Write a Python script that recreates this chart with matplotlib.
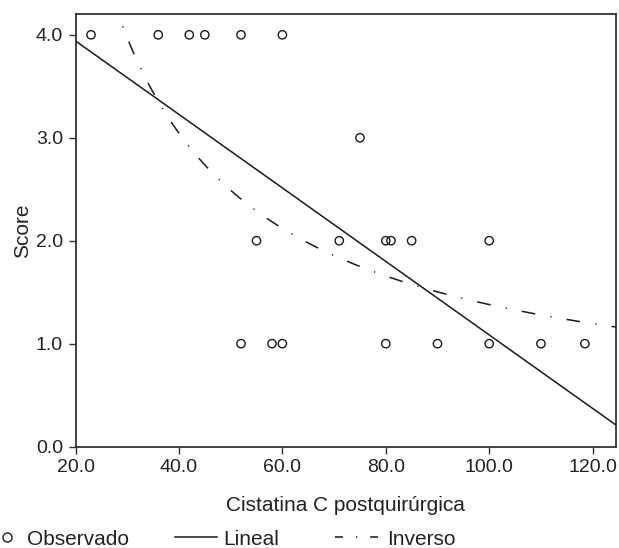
import numpy as np
import matplotlib
matplotlib.use("Agg")
import matplotlib.pyplot as plt
from matplotlib.lines import Line2D

plt.rcParams['font.family'] = ['Liberation Sans', 'DejaVu Sans']

# Observed data (Cistatina C postquirúrgica vs Score)
cistatina = [23, 36, 42, 45, 52, 60,
             75,
             55, 71, 80, 81, 85, 100,
             52, 58, 60, 80, 90, 100, 110, 118.5]
score = [4, 4, 4, 4, 4, 4,
         3,
         2, 2, 2, 2, 2, 2,
         1, 1, 1, 1, 1, 1, 1, 1]

# Fitted models
lineal_b0, lineal_b1 = 4.655, -0.0357     # y = b0 + b1*x
inverso_b0, inverso_b1 = 0.27, 111.0      # y = b0 + b1/x

x_ticks = [20.0, 40.0, 60.0, 80.0, 100.0, 120.0]
y_ticks = [0.0, 1.0, 2.0, 3.0, 4.0]
x_range = (20.0, 124.5)
y_range = (0.0, 4.2)

INK = '#1a1a1a'
TXT = '#222222'

fig = plt.figure(figsize=(6.19, 5.48), dpi=100)
ax = fig.add_axes([0.122, 0.185, 0.873, 0.789])

xs = np.linspace(x_range[0], x_range[1], 400)
ax.plot(xs, lineal_b0 + lineal_b1 * xs, color=INK, lw=1.1, label='Lineal')
ax.plot(xs, inverso_b0 + inverso_b1 / xs, color=INK, lw=1.1,
        linestyle=(0, (9, 10, 0.8, 10)), label='Inverso')
ax.scatter(cistatina, score, s=36, facecolors='none', edgecolors=INK,
           linewidths=1.0, zorder=3, label='Observado')

ax.set_xlim(*x_range)
ax.set_ylim(*y_range)
ax.set_xticks(x_ticks)
ax.set_xticklabels([f"{v:.1f}" for v in x_ticks])
ax.set_yticks(y_ticks)
ax.set_yticklabels([f"{v:.1f}" for v in y_ticks])
ax.tick_params(direction='out', length=5, width=1, labelsize=14, color='#333333',
               labelcolor=TXT, pad=4)
for s in ax.spines.values():
    s.set_color('#222222')
    s.set_linewidth(1.2)

ax.set_xlabel('Cistatina C postquirúrgica', fontsize=15, color=TXT, labelpad=14)
ax.set_ylabel('Score', fontsize=15, color=TXT, labelpad=3)

leg_kw = dict(frameon=False, fontsize=15, labelcolor=TXT, borderpad=0,
              borderaxespad=0, loc='center left')
h_obs = Line2D([], [], marker='o', ls='none', mfc='none', mec=INK, ms=6.5, mew=1.0)
h_lin = Line2D([], [], color=INK, lw=1.1)
h_inv = Line2D([], [], color=INK, lw=1.1, linestyle=(0, (5.2, 8.5, 0.8, 8.5)))

fig.legend([h_obs], ['Observado'], bbox_to_anchor=(0.002, 0.016),
           handlelength=0.6, handletextpad=0.65, **leg_kw)
fig.legend([h_lin], ['Lineal'], bbox_to_anchor=(0.2827, 0.016),
           handlelength=2.0, handletextpad=0.3, **leg_kw)
fig.legend([h_inv], ['Inverso'], bbox_to_anchor=(0.541, 0.016),
           handlelength=2.25, handletextpad=0.25, **leg_kw)

fig.savefig('out.png', dpi=100)
